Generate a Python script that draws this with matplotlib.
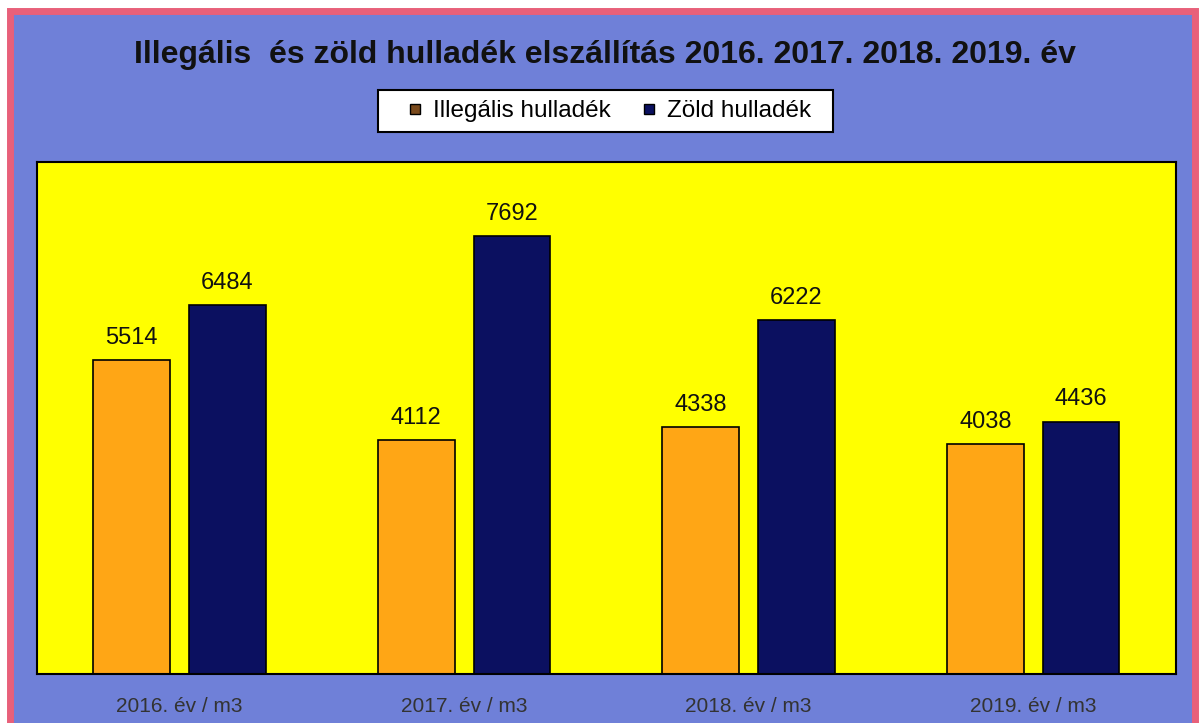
import numpy as np
import matplotlib
matplotlib.use("Agg")
import matplotlib.pyplot as plt
from matplotlib.patches import Rectangle
from matplotlib.lines import Line2D

categories = ["2016. év / m3", "2017. év / m3", "2018. év / m3", "2019. év / m3"]
illegalis = [5514, 4112, 4338, 4038]
zold = [6484, 7692, 6222, 4436]
series_names = ["Illegális hulladék", "Zöld hulladék"]

plt.rcParams['font.family'] = ['Liberation Sans', 'DejaVu Sans']

fig = plt.figure(figsize=(12.02, 7.23), dpi=100)
fig.patch.set_facecolor("white")

# blue panel with pink frame
frame = Rectangle((0.008, -0.01), 0.986, 0.995, transform=fig.transFigure,
                  facecolor="#6f80d8", edgecolor="#e8607a", linewidth=5, zorder=-5)
fig.patches.append(frame)

ax = fig.add_axes([0.031, 0.068, 0.947, 0.708])
ax.set_zorder(2)
ax.set_facecolor("#ffff00")

x = np.arange(len(categories))
w = 0.27
off = 0.168
b1 = ax.bar(x - off, illegalis, w, color="#ffa615", edgecolor="black", linewidth=1.2)
b2 = ax.bar(x + off, zold, w, color="#0b1060", edgecolor="black", linewidth=1.2)

for bars in (b1, b2):
    for rect in bars:
        h = rect.get_height()
        ax.annotate(f"{h:.0f}", (rect.get_x() + rect.get_width() / 2, h),
                    xytext=(0, 8), textcoords="offset points",
                    ha="center", va="bottom", fontsize=17, color="#111111")

ax.set_xlim(-0.5, len(categories) - 0.5)
ax.set_ylim(0, 9000)
ax.set_yticks([])
ax.set_xticks(x)
ax.set_xticklabels(categories, fontsize=15, color="#333333")
ax.tick_params(axis="x", length=0, pad=17)
for s in ax.spines.values():
    s.set_linewidth(1.5)
    s.set_color("black")

fig.text(0.503, 0.924, "Illegális  és zöld hulladék elszállítás 2016. 2017. 2018. 2019. év",
         ha="center", va="center", fontsize=23, fontweight="bold", color="#111111")

# legend box drawn separately to get the wide padding of the original
box = Rectangle((378 / 1202, 1 - 132 / 723), 455 / 1202, 42 / 723, transform=fig.transFigure,
                facecolor="white", edgecolor="black", linewidth=1.5, zorder=1)
fig.patches.append(box)

handles = [Line2D([], [], linestyle="none", marker="s", markersize=7.5,
                  markerfacecolor="#7a4a1c", markeredgecolor="black"),
           Line2D([], [], linestyle="none", marker="s", markersize=7.5,
                  markerfacecolor="#0b1060", markeredgecolor="black")]
leg = fig.legend(handles, series_names, loc="center", bbox_to_anchor=(610 / 1202, 1 - 111 / 723),
                 ncol=2, fontsize=17.5, frameon=False,
                 handlelength=0.5, handletextpad=0.5,
                 columnspacing=1.3, borderpad=0, borderaxespad=0)
leg.set_zorder(3)

fig.savefig("out.png", dpi=100)
